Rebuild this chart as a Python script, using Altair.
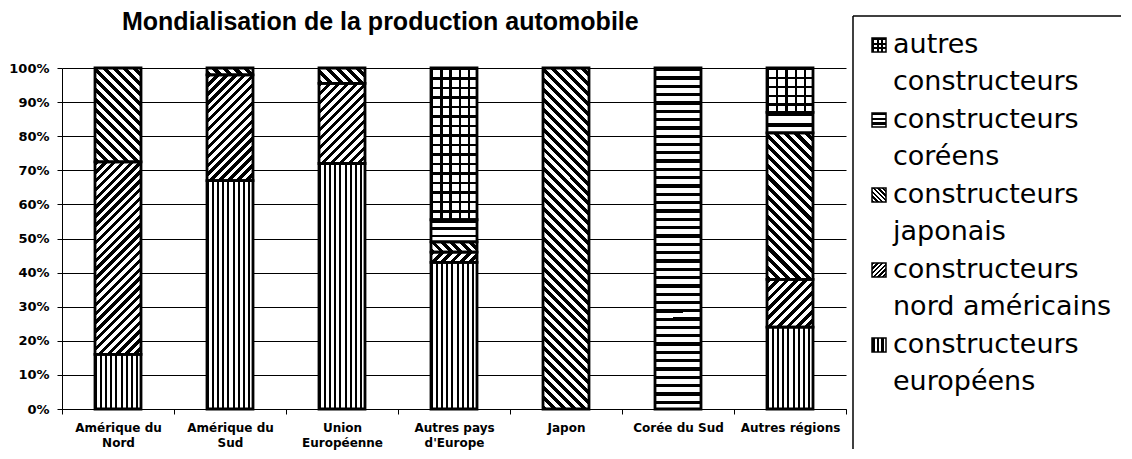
import altair as alt

# ---------------- data ----------------
regions = ["Amérique du\nNord", "Amérique du\nSud", "Union\nEuropéenne",
           "Autres pays\nd'Europe", "Japon", "Corée du Sud", "Autres régions"]
series = ["constructeurs européens", "constructeurs nord américains",
          "constructeurs japonais", "constructeurs coréens", "autres constructeurs"]
europeens = [16, 67, 72, 43, 0, 0, 24]
nord_americains = [56.5, 31, 23.5, 3, 0, 0, 14]
japonais = [27.5, 2, 4.5, 3, 100, 0, 43]
coreens = [0, 0, 0, 6.5, 0, 100, 6]
autres = [0, 0, 0, 44.5, 0, 0, 13]
y_ticks = [0, 10, 20, 30, 40, 50, 60, 70, 80, 90, 100]

legend_lines = [("autres", "constructeurs"), ("constructeurs", "coréens"),
                ("constructeurs", "japonais"), ("constructeurs", "nord américains"),
                ("constructeurs", "européens")]

# ---------------- styling (hatch patterns as hard-stop gradients) ----------------
PLOT_W, PLOT_H, BAR_W = 784, 341, 46
kinds = ["vert", "slash", "back", "horiz", "grid"]
CLEAR = "rgba(255,255,255,0)"


def stops(n, frac, on="black", off="white"):
    s = []
    for i in range(n):
        a, b, c = i / n, (i + frac) / n, (i + 1) / n
        s += [{"offset": round(a, 5), "color": on}, {"offset": round(b, 5), "color": on},
              {"offset": round(b, 5), "color": off}, {"offset": round(c, 5), "color": off}]
    return s


def pattern(kind, w, h, small=False):
    """Return (base gradient, overlay gradient or None)."""
    if kind == "vert":
        n = max(2, round(w / (4.3 if small else 5.2)))
        return {"gradient": "linear", "x1": 0, "y1": 0, "x2": 1, "y2": 0,
                "stops": stops(n, 0.55 if small else 0.4)}, None
    if kind == "horiz":
        n = max(2, round(h / (4.3 if small else 8.3)))
        return {"gradient": "linear", "x1": 0, "y1": 0, "x2": 0.0001, "y2": 1,
                "stops": stops(n, 0.5 if small else 0.4)}, None
    if kind == "slash":  # lines x + y = c
        k = (w + h) / (w * w + h * h)
        n = max(2, round((w + h) / (4.5 if small else 9.0)))
        return {"gradient": "linear", "x1": 0, "y1": 0, "x2": round(w * k, 5),
                "y2": round(h * k, 5), "stops": stops(n, 0.5)}, None
    if kind == "back":  # lines x - y = c
        k = (w + h) / (w * w + h * h)
        n = max(2, round((w + h) / (4.5 if small else 10.0)))
        return {"gradient": "linear", "x1": 0, "y1": 1, "x2": round(w * k, 5),
                "y2": round(1 - h * k, 5), "stops": stops(n, 0.5)}, None
    # grid
    nv = max(2, round(w / (5.5 if small else 9.5)))
    nh = max(2, round(h / (5.5 if small else 9.5)))
    fr = 0.45 if small else 0.25
    base = {"gradient": "linear", "x1": 0, "y1": 0, "x2": 1, "y2": 0, "stops": stops(nv, fr)}
    over = {"gradient": "linear", "x1": 0, "y1": 0, "x2": 0.0001, "y2": 1,
            "stops": stops(nh, fr, "black", CLEAR)}
    return base, over


values_by_series = [europeens, nord_americains, japonais, coreens, autres]
rows = []
for ri, reg in enumerate(regions):
    cum = 0.0
    for si, name in enumerate(series):
        v = values_by_series[si][ri]
        if v <= 0:
            continue
        g1, g2 = pattern(kinds[si], BAR_W, v / 100 * PLOT_H)
        r = {"region": reg, "constructeur": name, "start": cum, "end": cum + v, "g1": g1}
        if g2 is not None:
            r["g2"] = g2
        rows.append(r)
        cum += v

legend_kinds = ["grid", "horiz", "back", "slash", "vert"]
leg_rows = []
for i, ((l1, l2), kd) in enumerate(zip(legend_lines, legend_kinds)):
    g1, g2 = pattern(kd, 14, 14, small=True)
    r = {"i": i, "l1": l1, "l2": l2, "g1": g1}
    if g2 is not None:
        r["g2"] = g2
    leg_rows.append(r)

# ---------------- main chart ----------------
x_enc = alt.X("region:N", sort=regions,
              scale=alt.Scale(paddingInner=0, paddingOuter=0),
              axis=alt.Axis(title=None, labelAngle=0, labelExpr="split(datum.label, '\\n')",
                            tickBand="extent", tickSize=5, tickColor="black",
                            labelPadding=8, labelFont="DejaVu Sans", labelFontWeight="bold",
                            labelFontSize=12, labelLineHeight=15, labelColor="black",
                            domainColor="black", grid=False))
y_enc = alt.Y("start:Q", scale=alt.Scale(domain=[0, 100], nice=False),
              axis=alt.Axis(title=None, values=y_ticks, labelExpr="datum.value + '%'",
                            tickSize=5, tickColor="black", labelPadding=8,
                            labelFont="DejaVu Sans", labelFontWeight="bold", labelFontSize=13,
                            labelColor="black", domainColor="black", grid=True,
                            gridColor="black", gridWidth=1))

base = alt.Chart(alt.Data(values=rows))
fill_layer = base.mark_bar(size=BAR_W, strokeWidth=0).encode(
    x=x_enc, y=y_enc, y2="end:Q", fill=alt.Fill("g1:N", scale=None))
over_layer = base.transform_filter("isValid(datum.g2)").mark_bar(size=BAR_W, strokeWidth=0).encode(
    x=x_enc, y=y_enc, y2="end:Q", fill=alt.Fill("g2:N", scale=None))
outline = base.mark_bar(size=BAR_W, fillOpacity=0, stroke="black", strokeWidth=2.8).encode(
    x=x_enc, y=y_enc, y2="end:Q")

main = alt.layer(fill_layer, over_layer, outline).properties(
    width=PLOT_W, height=PLOT_H,
    title=alt.TitleParams("Mondialisation de la production automobile", font="Liberation Sans",
                          fontSize=25, fontWeight="bold", color="black", anchor="start",
                          frame="group", dx=60, offset=7, baseline="alphabetic"))

# ---------------- legend panel (top of panel = top of plot area) ----------------
LEG_W, LEG_H = 268, PLOT_H
FIRST, STEP = -23, 75          # pixel position of first entry, spacing between entries
leg_y = alt.Y("i:Q", scale=alt.Scale(domain=[-FIRST / STEP, (LEG_H - FIRST) / STEP],
                                     reverse=True), axis=None)
lbase = alt.Chart(alt.Data(values=leg_rows))
icons = lbase.mark_square(size=196, strokeWidth=0, opacity=1).encode(
    x=alt.value(26), y=leg_y, fill=alt.Fill("g1:N", scale=None))
icons_over = lbase.transform_filter("isValid(datum.g2)").mark_square(size=196, strokeWidth=0, opacity=1).encode(
    x=alt.value(26), y=leg_y, fill=alt.Fill("g2:N", scale=None))
icons_frame = lbase.mark_square(size=196, stroke="black", strokeWidth=1.5, fillOpacity=0, opacity=1).encode(
    x=alt.value(26), y=leg_y)
t1 = lbase.mark_text(align="left", baseline="middle", font="DejaVu Sans", fontSize=27,
                     color="black").encode(x=alt.value(40), y=leg_y, text="l1:N")
t2 = lbase.mark_text(align="left", baseline="middle", font="DejaVu Sans", fontSize=27,
                     color="black", dy=37).encode(x=alt.value(40), y=leg_y, text="l2:N")
frame_data = alt.Data(values=[{"f": 1}])
top_rule = alt.Chart(frame_data).mark_rule(color="black", strokeWidth=1.5).encode(
    x=alt.value(0), x2=alt.value(LEG_W), y=alt.value(-52))
left_rule = alt.Chart(frame_data).mark_rule(color="black", strokeWidth=1.5).encode(
    x=alt.value(0), y=alt.value(-52), y2=alt.value(LEG_H + 40))

legend = alt.layer(icons, icons_over, icons_frame, t1, t2, top_rule, left_rule).properties(
    width=LEG_W, height=LEG_H)

chart = alt.hconcat(main, legend, spacing=5).properties(
    padding={"left": 0, "top": 2, "right": 0, "bottom": 0}, background="white"
).configure_view(strokeWidth=0)

chart.save("out.html", embed_options={"renderer": "svg", "actions": False})
